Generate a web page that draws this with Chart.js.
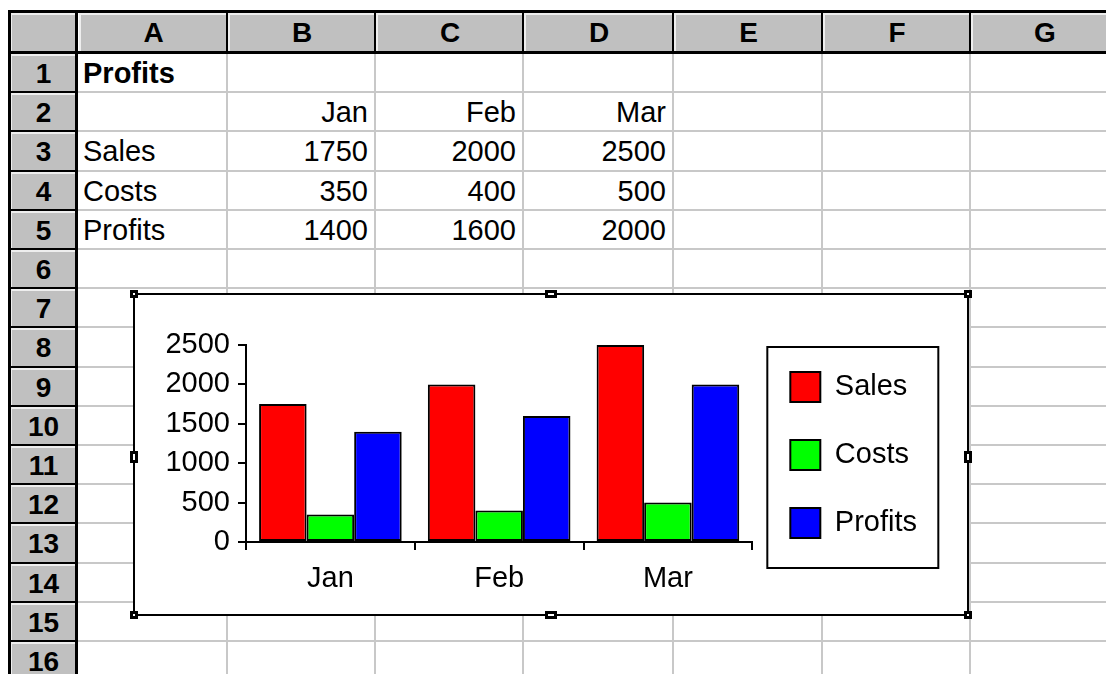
<!DOCTYPE html>
<html>
<head>
<meta charset="utf-8">
<script src="https://cdn.jsdelivr.net/npm/chart.js@4"></script>
<style>
  body { margin: 0; background: #fff; width: 1106px; height: 674px; overflow: hidden; position: relative;
         font-family: "Liberation Sans", Arial, sans-serif; }
  .abs { position: absolute; box-sizing: border-box; }
  .hdr { background: #c0c0c0; border-top: 2px solid #eeeeee; border-left: 2px solid #eeeeee;
         border-bottom: 1px solid #8a8a8a; border-right: 1px solid #8a8a8a;
         font-weight: bold; font-size: 28px; color: #000; text-align: center; }
  .cell { font-size: 29px; color: #000; white-space: nowrap; padding: 0 5px; }
  #chartbox { left: 133px; top: 293px; width: 836px; height: 323px; border: 2px solid #000; background: #fff; }
  .handle { background: #fff; border: 3px solid #000; }
</style>
</head>
<body>
<div id="sheet"></div>
<div id="chartbox" class="abs">
  <canvas id="chart" width="832" height="319"></canvas>
</div>
<script>
// data
var months = ["Jan", "Feb", "Mar"];
var sales = [1750, 2000, 2500];
var costs = [350, 400, 500];
var profits = [1400, 1600, 2000];
var seriesNames = ["Sales", "Costs", "Profits"];
var yTicks = [0, 500, 1000, 1500, 2000, 2500];
var colLetters = ["A", "B", "C", "D", "E", "F", "G"];

// sheet grid
var colX = [78, 227, 375, 523, 673, 822, 970, 1118];
var rowTop = 53, rowH = 39.2, rowCount = 16;
var sheet = document.getElementById("sheet");

function box(cls, l, t, w, h, css, txt) {
  var d = document.createElement("div");
  d.className = "abs " + cls;
  d.style.left = l + "px"; d.style.top = t + "px";
  d.style.width = w + "px"; d.style.height = h + "px";
  if (css) d.style.cssText += css;
  if (txt !== undefined) d.textContent = txt;
  sheet.appendChild(d);
  return d;
}

// gridlines
for (var i = 1; i < colX.length; i++) box("", colX[i] - 1, rowTop, 2, 674 - rowTop, "background:#c8c8c8");
for (var r = 1; r <= rowCount; r++) box("", 78, rowTop + r * rowH - 1, 1106 - 78, 2, "background:#c8c8c8");

// header row + corner
box("hdr", 10, 13, 66, 39);
for (var i = 0; i < colLetters.length; i++) {
  box("hdr", colX[i] + 1, 13, colX[i + 1] - colX[i] - 1, 39, "line-height:36px", colLetters[i]);
  box("", colX[i + 1] - 1, 12, 2, 41, "background:#000");
}
// row headers
for (var r = 0; r < rowCount; r++) {
  var t = rowTop + r * rowH;
  box("hdr", 10, t + 1, 66, rowH - 1, "line-height:" + (rowH - 4) + "px", String(r + 1));
  box("", 8, t + rowH - 1, 70, 2, "background:#000");
}
// thick borders
box("", 8, 10, 1098, 3, "background:#000");
box("", 8, 10, 3, 664, "background:#000");
box("", 8, 51, 1098, 3, "background:#000");
box("", 75, 10, 3, 664, "background:#000");

// cell contents
function cellText(col, row, txt, align, bold) {
  var t = rowTop + (row - 1) * rowH;
  box("cell", colX[col], t, colX[col + 1] - colX[col] - 2, rowH,
      "line-height:" + (rowH + 2) + "px;text-align:" + align + (bold ? ";font-weight:bold" : ""), txt);
}
cellText(0, 1, "Profits", "left", true);
months.forEach(function (m, i) { cellText(i + 1, 2, m, "right"); });
var rowsData = [sales, costs, profits];
rowsData.forEach(function (arr, k) {
  cellText(0, 3 + k, seriesNames[k], "left");
  arr.forEach(function (v, i) { cellText(i + 1, 3 + k, String(v), "right"); });
});

// chart selection handles
function handle(cx, cy, w, h) {
  var d = document.createElement("div");
  d.className = "abs handle";
  d.style.left = (cx - w / 2) + "px"; d.style.top = (cy - h / 2) + "px";
  d.style.width = w + "px"; d.style.height = h + "px";
  document.body.appendChild(d);
}
handle(134, 294, 8, 8); handle(968, 294, 8, 8);
handle(134, 615, 8, 8); handle(968, 615, 8, 8);
handle(551, 294, 12, 8); handle(551, 615, 12, 8);
handle(134, 457, 8, 12); handle(968, 457, 8, 12);

// legend frame plugin
var legendFrame = {
  id: "legendFrame",
  afterDraw: function (chart) {
    var hb = chart.legend.legendHitBoxes;
    if (!hb || !hb.length) return;
    var ctx = chart.ctx;
    var l = hb[0].left - 23, t = hb[0].top - 25;
    var last = hb[hb.length - 1];
    ctx.save();
    ctx.strokeStyle = "#000";
    ctx.lineWidth = 2;
    ctx.strokeRect(l, t, 171, last.top + last.height + 30 - t);
    ctx.restore();
  }
};

Chart.defaults.color = "#000";
Chart.defaults.font.family = '"Liberation Sans", Arial, sans-serif';

var colors = ["#ff0000", "#00ff00", "#0000ff"];
new Chart(document.getElementById("chart"), {
  type: "bar",
  data: {
    labels: months,
    datasets: rowsData.map(function (arr, k) {
      return {
        label: seriesNames[k],
        data: arr,
        backgroundColor: colors[k],
        borderColor: "#000",
        borderWidth: 2,
        borderSkipped: false,
        categoryPercentage: 0.845,
        barPercentage: 1.0
      };
    })
  },
  options: {
    responsive: false,
    animation: false,
    devicePixelRatio: 1,
    layout: { padding: { left: 0, top: 39, right: 40, bottom: 0 } },
    plugins: {
      tooltip: { enabled: false },
      legend: {
        position: "right",
        align: "start",
        labels: {
          boxWidth: 30,
          boxHeight: 30,
          padding: 38,
          font: { size: 29 }
        }
      }
    },
    scales: {
      x: {
        afterFit: function (s) { s.height = 72; },
        border: { display: true, color: "#000", width: 2 },
        grid: { drawOnChartArea: false, drawTicks: true, tickLength: 8, color: "#000", lineWidth: 2, offset: true },
        ticks: { font: { size: 29 }, padding: 12 }
      },
      y: {
        min: 0,
        max: 2500,
        afterFit: function (s) { s.width = 111; s.paddingTop = 50; },
        afterBuildTicks: function (s) { s.ticks = yTicks.map(function (v) { return { value: v }; }); },
        border: { display: true, color: "#000", width: 2 },
        grid: { drawOnChartArea: false, drawTicks: true, tickLength: 8, color: "#000", lineWidth: 2 },
        ticks: { font: { size: 29 }, padding: 8, callback: function (v) { return String(v); } }
      }
    }
  },
  plugins: [legendFrame]
});
</script>
</body>
</html>
